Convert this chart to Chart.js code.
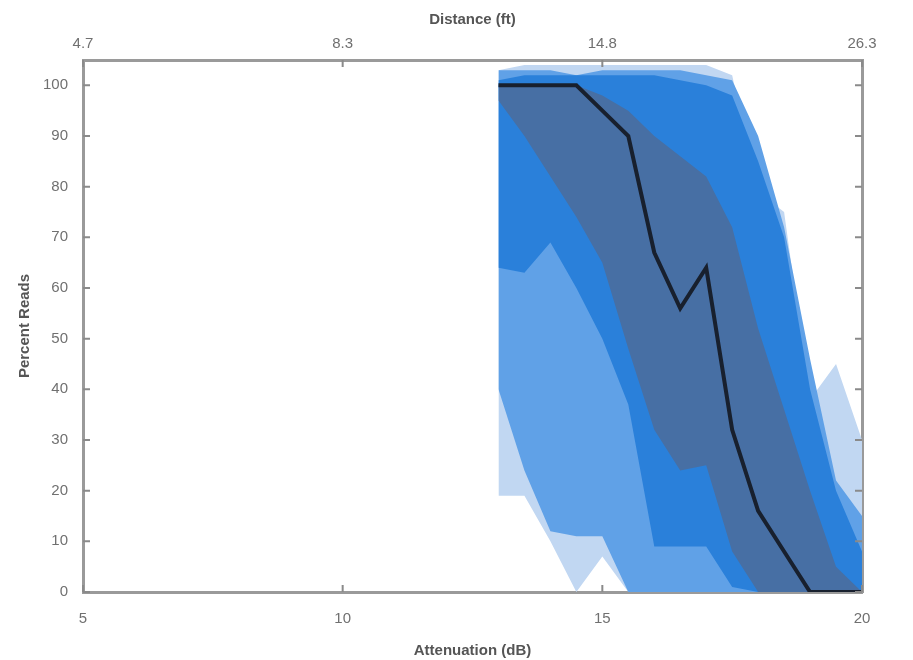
<!DOCTYPE html>
<html>
<head>
<meta charset="utf-8">
<script src="https://cdn.jsdelivr.net/npm/chart.js@4/dist/chart.umd.min.js"></script>
<style>
  html, body { margin: 0; padding: 0; background: #fff; }
  canvas { display: block; }
</style>
</head>
<body>
<canvas id="chart" width="913" height="660"></canvas>
<script>
// attenuation steps (dB)
const atten = [13, 13.5, 14, 14.5, 15, 15.5, 16, 16.5, 17, 17.5, 18, 18.5, 19, 19.5, 20];

// outermost band (lightest)
const bandALow  = [19, 19, 10, 0, 7, 0, 0, 0, 0, 0, 0, 0, 0, 0, 0];
const bandAHigh = [103, 104, 104, 104, 104, 104, 104, 104, 104, 102, 79, 75, 38, 45, 30];
// second band
const bandBLow  = [40, 24, 12, 11, 11, 0, 0, 0, 0, 0, 0, 0, 0, 0, 0];
const bandBHigh = [103, 103, 103, 102, 103, 103, 103, 103, 102, 101, 90, 72, 46, 22, 15];
// third band
const bandCLow  = [64, 63, 69, 60, 50, 37, 9, 9, 9, 1, 0, 0, 0, 0, 0];
const bandCHigh = [101, 102, 102, 102, 102, 102, 102, 101, 100, 98, 85, 70, 40, 20, 8];
// inner band
const bandDLow  = [97, 90, 82, 74, 65, 48, 32, 24, 25, 8, 0, 0, 0, 0, 0];
const bandDHigh = [100, 100, 100, 100, 98, 95, 90, 86, 82, 72, 52, 36, 20, 5, 0];
// median
const median = [100, 100, 100, 100, 95, 90, 67, 56, 64, 32, 16, 8, 0, 0, 0];

const attenTicks = [5, 10, 15, 20];
const distLabels = ['4.7', '8.3', '14.8', '26.3'];
const readTicks = [0, 10, 20, 30, 40, 50, 60, 70, 80, 90, 100];

const bandColors = ['#c1d7f2', '#60a1e7', '#2a80da', '#476fa4'];

function pts(vals) {
  return atten.map((a, i) => ({ x: a, y: vals[i] }));
}

const bands = [
  [bandALow, bandAHigh],
  [bandBLow, bandBHigh],
  [bandCLow, bandCHigh],
  [bandDLow, bandDHigh]
];

const datasets = [];
bands.forEach((b, i) => {
  const ord = 10 - i;
  datasets.push({ data: pts(b[0]), borderWidth: 0, pointRadius: 0, fill: false, order: ord });
  datasets.push({
    data: pts(b[1]), borderWidth: 0, pointRadius: 0, order: ord,
    fill: '-1', backgroundColor: bandColors[i]
  });
});
datasets.push({
  data: pts(median), borderColor: '#18202e', borderWidth: 4,
  pointRadius: 0, fill: false, order: 0, borderJoinStyle: 'miter'
});

const axisGray = '#9a9a9a';
const labelGray = '#707070';
const titleFont = { family: 'Liberation Sans, Arial, sans-serif', size: 15, weight: 'bold' };
const tickFont = { family: 'Liberation Sans, Arial, sans-serif', size: 15 };

// MATLAB-like inward tick marks
const innerTicks = {
  id: 'innerTicks',
  afterDraw(chart) {
    const { ctx, chartArea: a, scales } = chart;
    ctx.save();
    ctx.strokeStyle = '#8a8a8a';
    ctx.lineWidth = 2;
    ctx.beginPath();
    attenTicks.forEach(v => {
      const px = scales.x.getPixelForValue(v);
      ctx.moveTo(px, a.bottom); ctx.lineTo(px, a.bottom - 7);
      ctx.moveTo(px, a.top); ctx.lineTo(px, a.top + 7);
    });
    readTicks.forEach(v => {
      const py = scales.y.getPixelForValue(v);
      ctx.moveTo(a.left, py); ctx.lineTo(a.left + 7, py);
      ctx.moveTo(a.right, py); ctx.lineTo(a.right - 7, py);
    });
    ctx.stroke();
    ctx.restore();
  }
};

new Chart(document.getElementById('chart'), {
  type: 'line',
  data: { datasets },
  options: {
    responsive: false,
    animation: false,
    layout: { padding: 0 },
    plugins: { legend: { display: false }, tooltip: { enabled: false } },
    scales: {
      x: {
        type: 'linear', position: 'bottom', min: 5, max: 20,
        afterBuildTicks: s => { s.ticks = attenTicks.map(v => ({ value: v })); },
        afterFit: s => { s.height = 68; },
        grid: { display: false, drawTicks: false },
        border: { display: true, color: axisGray, width: 3 },
        ticks: { color: labelGray, font: tickFont, padding: 18, maxRotation: 0 },
        title: { display: true, text: 'Attenuation (dB)', color: '#555', font: titleFont, padding: { top: 0, bottom: 0 } }
      },
      x2: {
        type: 'linear', position: 'top', min: 5, max: 20,
        afterBuildTicks: s => { s.ticks = attenTicks.map(v => ({ value: v })); },
        afterFit: s => { s.height = 60; },
        grid: { display: false, drawTicks: false },
        border: { display: true, color: axisGray, width: 3 },
        ticks: {
          color: labelGray, font: tickFont, padding: 7, maxRotation: 0,
          callback: v => distLabels[attenTicks.indexOf(v)]
        },
        title: { display: true, text: 'Distance (ft)', color: '#555', font: titleFont, padding: { top: 11, bottom: 0 } }
      },
      y: {
        type: 'linear', position: 'left', min: 0, max: 105,
        afterBuildTicks: s => { s.ticks = readTicks.map(v => ({ value: v })); },
        afterFit: s => { s.width = 83; },
        grid: { display: false, drawTicks: false },
        border: { display: true, color: axisGray, width: 3 },
        ticks: { color: labelGray, font: tickFont, padding: 15 },
        title: { display: true, text: 'Percent Reads', color: '#555', font: titleFont, padding: { top: 16, bottom: 0 } }
      },
      y2: {
        type: 'linear', position: 'right', min: 0, max: 105,
        afterFit: s => { s.width = 51; },
        grid: { display: false, drawTicks: false },
        border: { display: true, color: axisGray, width: 3 },
        ticks: { display: false }
      }
    }
  },
  plugins: [innerTicks]
});
</script>
</body>
</html>
